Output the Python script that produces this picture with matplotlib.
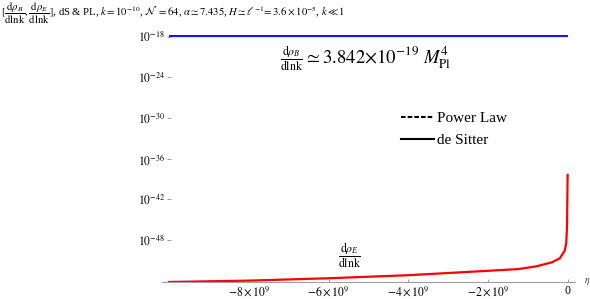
import numpy as np
import matplotlib
matplotlib.use("Agg")
import matplotlib.pyplot as plt
from matplotlib.lines import Line2D

plt.rcParams["font.family"] = ["Liberation Serif", "DejaVu Serif"]
plt.rcParams["mathtext.fontset"] = "stix"

# conformal time eta and log10 of the spectra
eta = [-1.0e10, -8e9, -6e9, -4e9, -2e9, -1.25e9, -0.8e9, -0.4e9,
       -0.2e9, -0.08e9, -0.04e9, -0.02e9, -0.005e9]
log_rho_E = [-54.2, -54.0, -53.65, -53.2, -52.55, -52.3, -51.9, -51.3,
             -50.7, -49.6, -48.5, -46.0, -38.4]
log_rho_B = -17.95   # where the blue line sits in the picture
eta_B = [-1.0e10, 0.0]

ytick_exp = [-18, -24, -30, -36, -42, -48]
xtick_vals = [-8e9, -6e9, -4e9, -2e9, 0]
xtick_labels = [r"$-8\times10^{9}$", r"$-6\times10^{9}$", r"$-4\times10^{9}$",
                r"$-2\times10^{9}$", "0"]

fig = plt.figure(figsize=(5.9, 2.99), dpi=100)
ax = fig.add_axes([0.2746, 0.0569, 0.700, 0.826])

rho_E = 10.0 ** np.array(log_rho_E)
rho_B = 10.0 ** log_rho_B
ax.plot(eta_B, [rho_B, rho_B], color="#1414ff", lw=1.6, solid_capstyle="butt")
ax.plot(eta, rho_E, color="#ff0000", lw=1.6)

ax.set_yscale("log")
ax.set_xlim(-1.018e10, 0.18e9)
ax.set_ylim(10 ** -54.2, 10 ** -17.75)

ax.yaxis.set_minor_locator(matplotlib.ticker.NullLocator())
ax.set_yticks([10.0 ** e for e in ytick_exp],
              [r"$10^{%d}$" % e for e in ytick_exp])
ax.set_xticks(xtick_vals, xtick_labels)

for s in ["top", "right"]:
    ax.spines[s].set_visible(False)
ax.spines["left"].set_position(("data", -1.0e10))
ax.spines["left"].set_color("none")
ax.spines["bottom"].set_color("#a0a0a0")
ax.spines["bottom"].set_linewidth(0.8)
ax.tick_params(axis="y", direction="inout", length=3, width=0.6,
               color="#909090", pad=1.5, labelsize=8.3)
ax.tick_params(axis="x", direction="in", length=2.5, width=0.6,
               color="#909090", pad=2, labelsize=8.5)

ax.text(1.03, 0.0, r"$\eta$", transform=ax.transAxes, fontsize=7,
        ha="center", va="center", color="#333333")

fig.text(0.002, 0.998,
         r"$[\dfrac{\mathrm{d}\rho_B}{\mathrm{dlnk}},\dfrac{\mathrm{d}\rho_E}{\mathrm{dlnk}}]$, dS & PL, "
         r"$k=10^{-10}$, $\mathcal{N}\;=64$, $\alpha\simeq7.435$, "
         r"$H\simeq\ell^{-1}\!=3.6\times10^{-5}$, $k\ll1$",
         fontsize=7.7, ha="left", va="top")

ax.text(0.341, 0.907, r"$\dfrac{\mathrm{d}\rho_B}{\mathrm{dlnk}}$",
        transform=ax.transAxes, fontsize=8.5, ha="right", va="center")
ax.text(0.343, 0.907, r"$\simeq 3.842{\times}10^{-19}\ M_{\mathrm{Pl}}^{4}$",
        transform=ax.transAxes, fontsize=13.5, ha="left", va="center")
ax.text(0.455, 0.11, r"$\dfrac{\mathrm{d}\rho_E}{\mathrm{dlnk}}$",
        transform=ax.transAxes, fontsize=8.5, ha="center", va="center")

handles = [Line2D([], [], color="black", lw=1.5, ls=(0, (2.2, 1.0))),
           Line2D([], [], color="black", lw=1.5)]
ax.legend(handles, ["Power Law", "de Sitter"], loc="upper left",
          bbox_to_anchor=(0.565, 0.715), frameon=False, fontsize=11,
          handlelength=2.1, handletextpad=0.25, labelspacing=0.55,
          borderaxespad=0)

fig.savefig("out.png", dpi=100)
